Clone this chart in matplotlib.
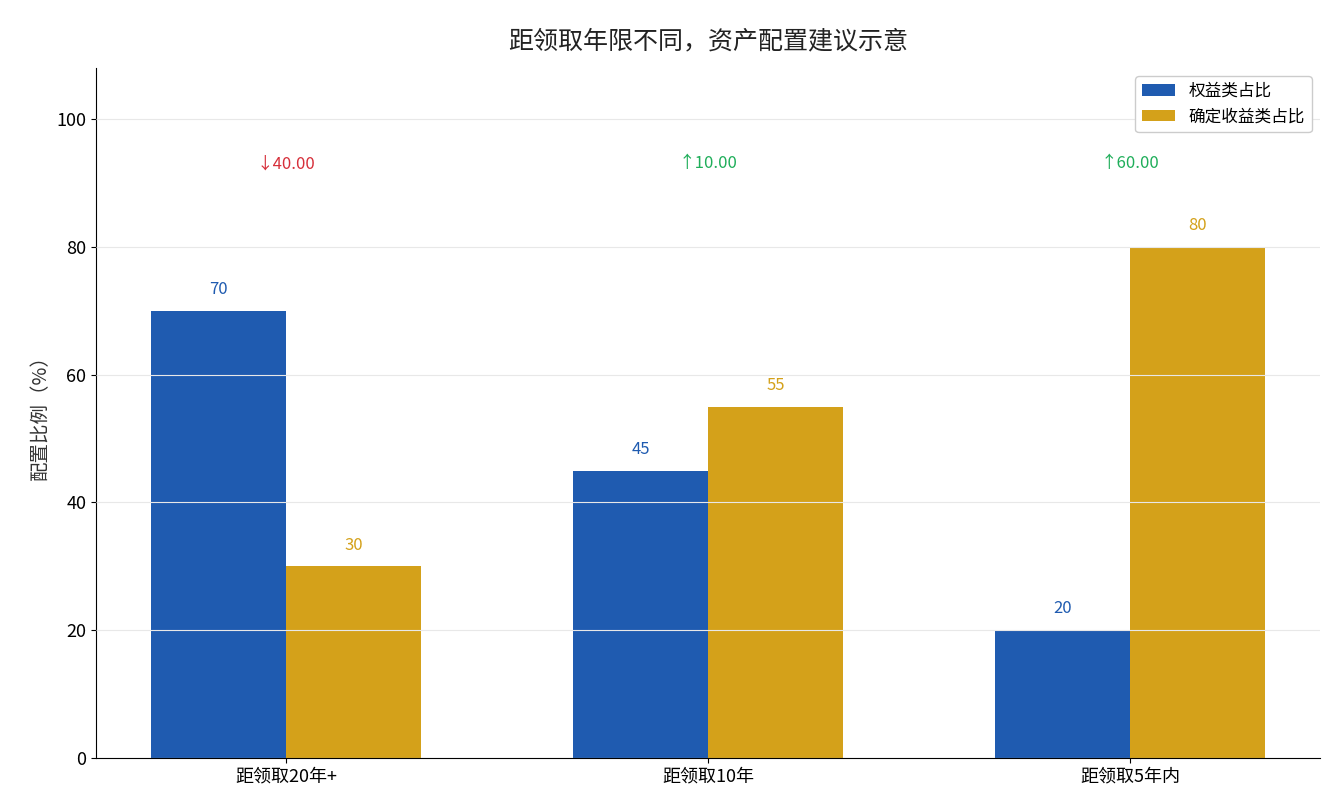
import matplotlib
matplotlib.use("Agg")
import matplotlib.pyplot as plt
import numpy as np

plt.rcParams['font.family'] = ['Noto Sans CJK SC', 'DejaVu Sans']

categories = ["距领取20年+", "距领取10年", "距领取5年内"]
equity = [70, 45, 20]
fixed = [30, 55, 80]
changes = ["↓40.00", "↑10.00", "↑60.00"]
change_colors = ["#d62f3a", "#1fae5a", "#1fae5a"]

blue = "#1f5bb0"
gold = "#d4a11a"

fig = plt.figure(figsize=(13.35, 8.1), dpi=100)
ax = fig.add_axes([96/1335, 1-758/810, (1320-96)/1335, (758-68)/810])

x = np.arange(len(categories))
w = 0.32
ax.bar(x - w/2, equity, w, color=blue, label="权益类占比", zorder=1)
ax.bar(x + w/2, fixed, w, color=gold, label="确定收益类占比", zorder=1)
for i in range(len(x)):
    ax.text(x[i] - w/2, equity[i] + 2, str(equity[i]), ha='center', va='bottom', color=blue, fontsize=12)
    ax.text(x[i] + w/2, fixed[i] + 2, str(fixed[i]), ha='center', va='bottom', color=gold, fontsize=12)
    ax.text(x[i], 93, changes[i], ha='center', va='center', color=change_colors[i], fontsize=12)

ax.set_xlim(-0.45, 2.45)
ax.set_ylim(0, 108)
ax.set_yticks([0, 20, 40, 60, 80, 100])
ax.set_xticks(x)
ax.set_xticklabels(categories, fontsize=13)
ax.tick_params(axis='y', labelsize=13)
ax.set_ylabel("配置比例（%）", fontsize=14, color="#333333")
ax.set_title("距领取年限不同，资产配置建议示意", fontsize=18, pad=14, color="#222222")
ax.yaxis.grid(True, color="#e8e8e8", linewidth=0.8, zorder=2)
ax.set_axisbelow(False)
for s in ['top', 'right']:
    ax.spines[s].set_visible(False)
ax.legend(loc='upper right', fontsize=12, framealpha=1, edgecolor="#cccccc")

fig.savefig("out.png", dpi=100)
